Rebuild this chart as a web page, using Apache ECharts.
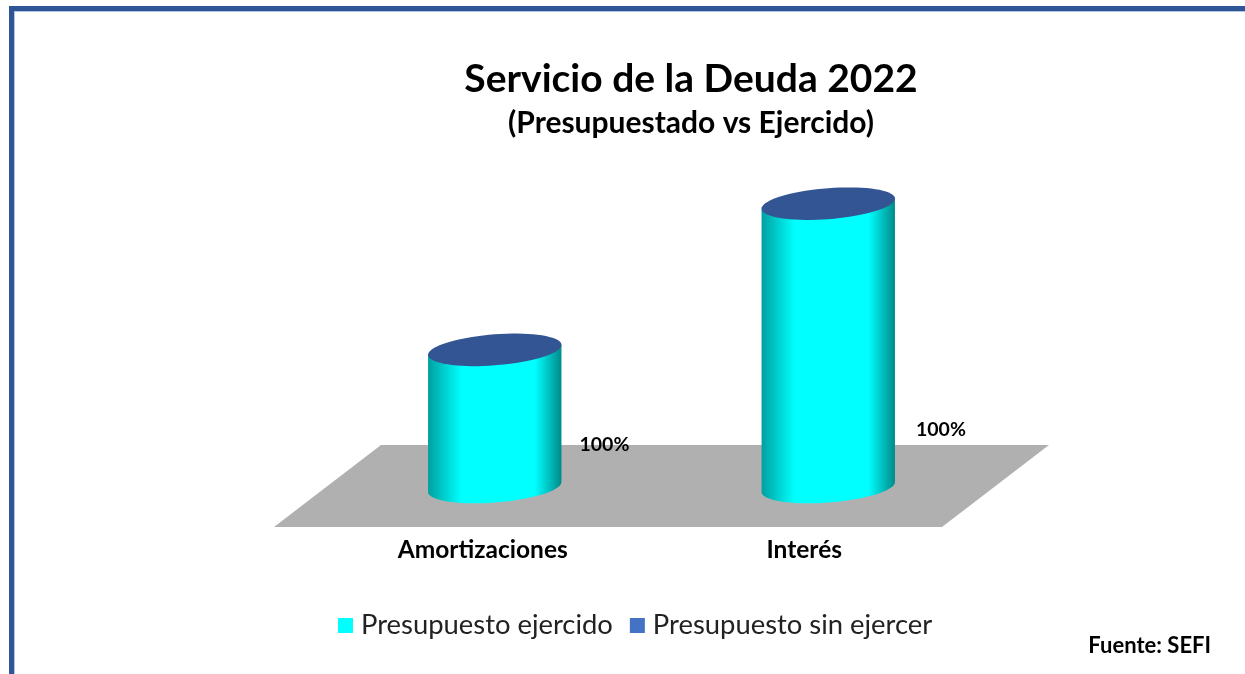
<!DOCTYPE html>
<html>
<head>
<meta charset="utf-8">
<title>Servicio de la Deuda 2022</title>
<script src="https://cdn.jsdelivr.net/npm/echarts@6/dist/echarts.min.js"></script>
<style>
    html, body { margin: 0; padding: 0; background: #fff; }
    #chart { width: 1245px; height: 674px; }
</style>
</head>
<body>
<div id="chart"></div>
<script>
const categorias = ["Amortizaciones", "Interés"];
const ejercido = [484, 1000];
const sinEjercer = [0, 0];
const etiquetas = ["100%", "100%"];

const FONT = "Lato";
const TILT = 5;      // how far the ellipse's right side rises over the left one
const DEPTH = 15.5;

// sheared ellipse, gives the look of a cylinder seen from above
function ellipsePoint(cx, cy, a, t) {
    return [
        cx + a * Math.cos(t),
        cy - TILT * Math.cos(t) - DEPTH * Math.sin(t),
    ];
}

function ellipse(cx, cy, a) {
    var pts = [];
    for (var i = 0; i < 72; i++) {
        pts.push(ellipsePoint(cx, cy, a, (i / 72) * 2 * Math.PI));
    }
    return pts;
}

function renderBody(params, api) {
    var i = api.value(0);
    var top = api.coord([i, api.value(1)]);
    var base = api.coord([i, 0]);
    var a = api.size([1, 0])[0] * 0.2;
    var pts = [ellipsePoint(top[0], top[1], a, 0), ellipsePoint(top[0], top[1], a, Math.PI)];
    for (var k = 0; k <= 36; k++) {
        pts.push(ellipsePoint(base[0], base[1], a, Math.PI + (k / 36) * Math.PI));
    }
    return {
        type: "group",
        children: [
            {
                type: "polygon",
                shape: { points: pts },
                style: {
                    fill: new echarts.graphic.LinearGradient(0, 0, 1, 0, [
                        { offset: 0, color: "#00A0A0" },
                        { offset: 0.25, color: "#00FFFF" },
                        { offset: 0.8, color: "#00FFFF" },
                        { offset: 1, color: "#008A8A" },
                    ]),
                },
            },
            {
                type: "text",
                style: {
                    text: etiquetas[i],
                    x: base[0] + a + (i === 0 ? 43 : 46),
                    y: i === 0 ? 445 : 430,
                    align: "center",
                    verticalAlign: "middle",
                    font: "bold 19.5px " + FONT,
                    fill: "#000",
                },
            },
        ],
    };
}

function renderCap(params, api) {
    var i = api.value(0);
    var top = api.coord([i, ejercido[i] + api.value(1)]);
    var a = api.size([1, 0])[0] * 0.2;
    return {
        type: "polygon",
        shape: { points: ellipse(top[0], top[1], a) },
        style: { fill: "#335593" },
    };
}

var myChart = echarts.init(document.getElementById("chart"));
var option = {
    animation: false,
    backgroundColor: "#fff",
    title: {
        text: "Servicio de la Deuda 2022",
        subtext: "(Presupuestado vs Ejercido)",
        left: 691,
        top: 60,
        padding: 0,
        textAlign: "center",
        itemGap: 9,
        textStyle: { fontFamily: FONT, fontWeight: "bold", fontSize: 39, color: "#000" },
        subtextStyle: { fontFamily: FONT, fontWeight: "bold", fontSize: 30, color: "#000" },
    },
    legend: {
        left: 333,
        top: 607,
        icon: "rect",
        itemWidth: 15,
        itemHeight: 15,
        itemGap: 17,
        textStyle: { fontFamily: FONT, fontSize: 27.4, color: "#222", padding: [0, 0, 0, 3] },
        data: ["Presupuesto ejercido", "Presupuesto sin ejercer"],
    },
    grid: { left: 328, width: 667, top: 147, height: 340 },
    xAxis: {
        type: "category",
        data: categorias,
        axisLine: { show: false },
        axisTick: { show: false },
        axisLabel: {
            margin: 51,
            // the labels sit a bit left of their cylinders
            formatter: function (value, index) {
                return (index === 0 ? "{a|" : "{b|") + value + "}";
            },
            rich: {
                a: { fontFamily: FONT, fontWeight: "bold", fontSize: 24.5, color: "#000", padding: [0, 24, 0, 0] },
                b: { fontFamily: FONT, fontWeight: "bold", fontSize: 24.5, color: "#000", padding: [0, 48, 0, 0] },
            },
        },
    },
    yAxis: { type: "value", min: 0, max: 1200, show: false },
    series: [
        {
            name: "Presupuesto ejercido",
            type: "custom",
            itemStyle: { color: "#00FFFF" },
            renderItem: renderBody,
            data: ejercido.map((v, i) => [i, v]),
        },
        {
            name: "Presupuesto sin ejercer",
            type: "custom",
            itemStyle: { color: "#4472C4" },
            renderItem: renderCap,
            data: sinEjercer.map((v, i) => [i, v]),
        },
    ],
    graphic: [
        // floor under the cylinders
        {
            type: "polygon",
            z: 0,
            shape: { points: [[274, 527], [942, 527], [1049, 445], [381, 445]] },
            style: { fill: "#B0B0B0" },
        },
        // slide frame, only left and top sides show
        { type: "rect", z: 0, shape: { x: 14, y: 11, width: 1231, height: 1 }, style: { fill: "#B4C6E7" } },
        { type: "rect", z: 0, shape: { x: 14, y: 11, width: 1, height: 663 }, style: { fill: "#B4C6E7" } },
        { type: "rect", z: 1, shape: { x: 9, y: 6, width: 1236, height: 5 }, style: { fill: "#2F5597" } },
        { type: "rect", z: 1, shape: { x: 9, y: 6, width: 5, height: 668 }, style: { fill: "#2F5597" } },
        {
            type: "text",
            z: 1,
            style: {
                text: "Fuente: SEFI",
                x: 1211,
                y: 646,
                align: "right",
                verticalAlign: "middle",
                font: "bold 22px " + FONT,
                fill: "#000",
            },
        },
    ],
};
myChart.setOption(option, true);
</script>
</body>
</html>
